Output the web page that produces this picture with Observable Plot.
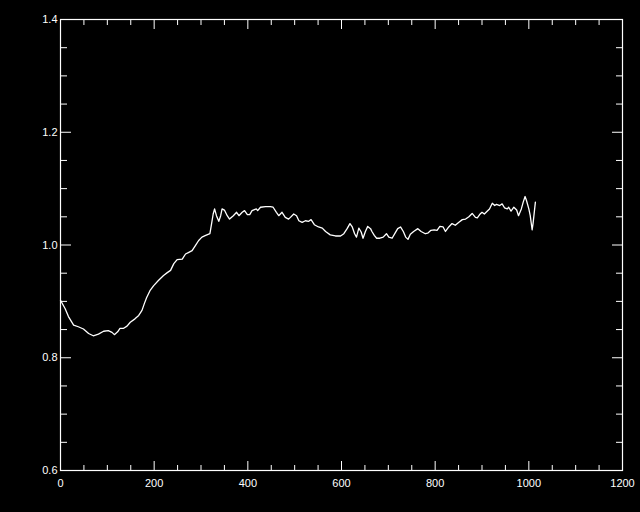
<!DOCTYPE html>
<html>
<head>
<meta charset="utf-8">
<script src="https://cdn.jsdelivr.net/npm/d3@7"></script>
<script src="https://cdn.jsdelivr.net/npm/@observablehq/plot@0.6"></script>
<style>
  html, body { margin: 0; padding: 0; background: #000; }
  #chart { width: 640px; height: 512px; }
</style>
</head>
<body>
<div id="chart"></div>
<script>
const xs = [0,10,17,28,38,49,60,70,81,92,102,110,115,122,127,134,142,149,159,167,174,179,184,191,199,209,220,228,235,242,249,260,267,274,281,288,295,302,310,319,322,326,329,333,338,342,345,350,356,361,369,376,381,388,393,399,404,409,418,421,427,438,448,454,461,466,473,480,487,491,498,504,509,516,523,530,535,542,551,559,566,576,587,598,605,612,618,623,628,632,637,642,646,651,656,662,665,670,675,682,689,696,701,708,715,720,726,732,737,742,747,754,763,770,779,784,791,798,804,810,817,822,829,836,843,850,858,865,872,879,886,890,895,900,905,911,916,922,927,931,938,943,948,954,957,962,968,974,978,984,988,992,995,1000,1003,1007,1009,1012,1014];
const ys = [0.902,0.887,0.873,0.858,0.855,0.851,0.843,0.839,0.842,0.847,0.848,0.845,0.841,0.846,0.852,0.852,0.856,0.863,0.869,0.875,0.884,0.896,0.907,0.919,0.928,0.937,0.946,0.951,0.955,0.967,0.974,0.975,0.984,0.987,0.990,0.999,1.008,1.014,1.017,1.020,1.035,1.055,1.064,1.052,1.042,1.052,1.064,1.062,1.052,1.046,1.052,1.058,1.052,1.058,1.061,1.054,1.054,1.061,1.064,1.061,1.067,1.068,1.068,1.067,1.058,1.052,1.058,1.049,1.046,1.049,1.055,1.052,1.043,1.040,1.043,1.042,1.045,1.036,1.032,1.030,1.024,1.018,1.016,1.016,1.020,1.029,1.038,1.032,1.020,1.014,1.030,1.023,1.012,1.024,1.033,1.029,1.024,1.017,1.012,1.012,1.014,1.020,1.014,1.012,1.022,1.029,1.032,1.024,1.014,1.010,1.019,1.024,1.029,1.024,1.020,1.021,1.026,1.027,1.026,1.033,1.032,1.024,1.032,1.038,1.035,1.040,1.045,1.046,1.050,1.056,1.049,1.048,1.054,1.058,1.055,1.060,1.064,1.074,1.070,1.072,1.070,1.073,1.066,1.064,1.067,1.060,1.067,1.062,1.052,1.064,1.076,1.086,1.079,1.064,1.052,1.027,1.038,1.061,1.076];

const xMajor = [0, 200, 400, 600, 800, 1000, 1200];
const xMinor = [50,100,150,250,300,350,450,500,550,650,700,750,850,900,950,1050,1100,1150];
const yMajor = [0.6, 0.8, 1.0, 1.2, 1.4];
const yMinor = [0.65,0.7,0.75,0.85,0.9,0.95,1.05,1.1,1.15,1.25,1.3,1.35];
const xLabels = ["0", "200", "400", "600", "800", "1000", "1200"];
const yLabels = ["0.6", "0.8", "1.0", "1.2", "1.4"];

const data = xs.map((x, i) => ({x, y: ys[i]}));
const blank = () => "";

const chart = Plot.plot({
  width: 640,
  height: 512,
  marginLeft: 60,
  marginRight: 18,
  marginTop: 19,
  marginBottom: 42,
  style: {background: "#000", color: "#fff", fontFamily: "'Liberation Sans', Arial, sans-serif", fontSize: "11px"},
  x: {domain: [0, 1200], label: null},
  y: {domain: [0.6, 1.4], label: null},
  marks: [
    Plot.frame({stroke: "#fff", strokeWidth: 1.2}),
    Plot.axisX({ticks: xMajor, tickSize: -9, tickPadding: 18, tickFormat: (d, i) => xLabels[i], stroke: "#fff", fill: "#fff", label: null}),
    Plot.axisX({ticks: xMinor, tickSize: -5, tickFormat: blank, stroke: "#fff", label: null}),
    Plot.axisX({anchor: "top", ticks: xMajor, tickSize: -9, tickFormat: blank, stroke: "#fff", label: null}),
    Plot.axisX({anchor: "top", ticks: xMinor, tickSize: -5, tickFormat: blank, stroke: "#fff", label: null}),
    Plot.axisY({ticks: yMajor, tickSize: -11, tickPadding: 14, tickFormat: (d, i) => yLabels[i], stroke: "#fff", fill: "#fff", label: null}),
    Plot.axisY({ticks: yMinor, tickSize: -7, tickFormat: blank, stroke: "#fff", label: null}),
    Plot.axisY({anchor: "right", ticks: yMajor, tickSize: -11, tickFormat: blank, stroke: "#fff", label: null}),
    Plot.axisY({anchor: "right", ticks: yMinor, tickSize: -7, tickFormat: blank, stroke: "#fff", label: null}),
    Plot.line(data, {x: "x", y: "y", stroke: "#fff", strokeWidth: 1.3})
  ]
});
document.getElementById("chart").appendChild(chart);
</script>
</body>
</html>
